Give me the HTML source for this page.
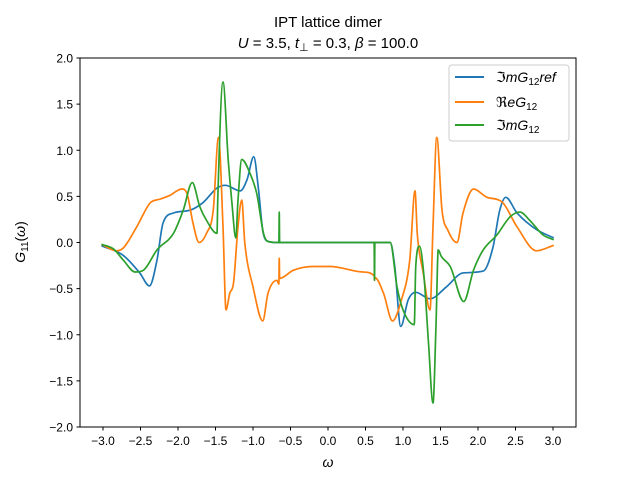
<!DOCTYPE html>
<html><head><meta charset="utf-8"><style>
body{margin:0;background:#fff;}
svg{display:block;font-family:"Liberation Sans","DejaVu Sans",sans-serif;}
</style></head><body>
<svg id="chart" width="640" height="480" viewBox="0 0 640 480">
<text x="328" y="27" text-anchor="middle" font-size="15">IPT lattice dimer</text>
<text x="328" y="48" text-anchor="middle" font-size="15"><tspan font-style="italic">U</tspan> = 3.5, <tspan font-style="italic">t</tspan><tspan font-size="11" dy="3">⊥</tspan><tspan dy="-3"> = 0.3, </tspan><tspan font-style="italic">β</tspan> = 100.0</text>
<g id="plot"></g>
<rect x="80" y="58" width="496" height="369" fill="none" stroke="#000" stroke-width="1"/>
<g id="ticks"></g>
<text x="328" y="467" text-anchor="middle" font-size="14" font-style="italic">ω</text>
<text transform="translate(25,242) rotate(-90)" text-anchor="middle" font-size="14"><tspan font-style="italic">G</tspan><tspan font-size="10" dy="3">11</tspan><tspan dy="-3">(</tspan><tspan font-style="italic">ω</tspan>)</text>
<g>
<rect x="449" y="65" width="120" height="76" rx="3" fill="#fff" fill-opacity="0.8" stroke="#ccc"/>
<line x1="455" y1="77" x2="484" y2="77" stroke="#1f77b4" stroke-width="2"/>
<text x="496" y="82" font-size="14">ℑ<tspan font-style="italic">mG</tspan><tspan font-size="10" dy="3">12</tspan><tspan dy="-3" font-style="italic">ref</tspan></text>
<line x1="455" y1="102" x2="484" y2="102" stroke="#ff7f0e" stroke-width="2"/>
<text x="496" y="107" font-size="14">ℜ<tspan font-style="italic">eG</tspan><tspan font-size="10" dy="3">12</tspan></text>
<line x1="455" y1="125" x2="484" y2="125" stroke="#2ca02c" stroke-width="2"/>
<text x="496" y="130" font-size="14">ℑ<tspan font-style="italic">mG</tspan><tspan font-size="10" dy="3">12</tspan></text>
</g>
</svg>
<script>
const xTicks=[-3.0,-2.5,-2.0,-1.5,-1.0,-0.5,0.0,0.5,1.0,1.5,2.0,2.5,3.0];
const yTicks=[-2.0,-1.5,-1.0,-0.5,0.0,0.5,1.0,1.5,2.0];
const imRefW=[-3.02,-2.73,-2.51,-2.38,-2.28,-2.20,-2.06,-1.84,-1.67,-1.48,-1.37,-1.17,-1.08,-0.99,-0.93,-0.87,-0.82,-0.7,0,0.75,0.83,0.89,0.97,1.07,1.17,1.36,1.58,1.80,2.07,2.20,2.29,2.37,2.52,2.78,3.01];
const imRefV=[-0.035,-0.14,-0.33,-0.47,-0.19,0.21,0.32,0.35,0.43,0.59,0.62,0.56,0.68,0.93,0.60,0.13,0.02,0.0,0.0,0.0,0.0,-0.26,-0.91,-0.62,-0.54,-0.61,-0.48,-0.33,-0.31,-0.05,0.35,0.49,0.32,0.14,0.05];
const reW=[-3.02,-2.82,-2.73,-2.55,-2.37,-2.24,-2.11,-1.95,-1.88,-1.80,-1.72,-1.62,-1.53,-1.46,-1.40,-1.36,-1.31,-1.26,-1.20,-1.15,-1.11,-1.0,-0.87,-0.80,-0.68,-0.655,-0.65,-0.645,-0.46,-0.20,0.03,0.47,0.615,0.62,0.625,0.74,0.86,0.98,1.09,1.16,1.19,1.27,1.36,1.40,1.45,1.52,1.60,1.72,1.80,1.94,2.12,2.32,2.52,2.78,3.01];
const reV=[-0.02,-0.09,-0.06,0.17,0.43,0.47,0.51,0.58,0.53,0.21,0.0,0.10,0.35,1.14,0.17,-0.73,-0.55,-0.44,0.17,0.46,0.0,-0.48,-0.85,-0.55,-0.41,-0.45,-0.17,-0.39,-0.30,-0.26,-0.26,-0.32,-0.36,-0.41,-0.38,-0.55,-0.85,-0.62,-0.19,0.56,0.10,-0.33,-0.73,0.17,1.14,0.35,0.13,0.0,0.32,0.58,0.49,0.44,0.17,-0.09,-0.03];
const imW=[-3.02,-2.86,-2.73,-2.57,-2.46,-2.28,-2.06,-1.93,-1.81,-1.71,-1.62,-1.48,-1.47,-1.40,-1.33,-1.28,-1.23,-1.20,-1.15,-1.04,-0.95,-0.86,-0.80,-0.655,-0.65,-0.645,0,0.615,0.62,0.625,0.83,0.92,1.0,1.15,1.17,1.22,1.28,1.34,1.40,1.44,1.47,1.51,1.63,1.81,1.94,2.07,2.25,2.43,2.56,2.69,2.87,3.01];
const imV=[-0.02,-0.07,-0.19,-0.32,-0.30,-0.08,0.10,0.35,0.65,0.39,0.24,0.10,0.46,1.74,0.89,0.42,0.05,0.46,0.90,0.75,0.53,0.10,0.01,0.0,0.33,0.0,0.0,0.0,-0.41,0.0,0.0,-0.48,-0.73,-0.89,-0.26,-0.04,-0.37,-1.09,-1.74,-0.9,-0.08,-0.15,-0.26,-0.64,-0.30,-0.08,0.08,0.28,0.33,0.24,0.08,0.03];

const X=w=>328+w*75;
const Y=v=>242.5-v*92.25;
const NS='http://www.w3.org/2000/svg';
const plot=document.getElementById('plot');
const ticks=document.getElementById('ticks');
function fmt(v){return (v<0?'−':'')+Math.abs(v).toFixed(1);}
xTicks.forEach(t=>{
  const l=document.createElementNS(NS,'line');
  l.setAttribute('x1',X(t));l.setAttribute('x2',X(t));l.setAttribute('y1',427);l.setAttribute('y2',430.5);l.setAttribute('stroke','#000');
  
  
  ticks.appendChild(l);
  const tx=document.createElementNS(NS,'text');
  tx.setAttribute('x',X(t));tx.setAttribute('y',445);tx.setAttribute('text-anchor','middle');tx.setAttribute('font-size','12');
  tx.textContent=fmt(t);
  
  
  ticks.appendChild(tx);
});
yTicks.forEach(t=>{
  const l=document.createElementNS(NS,'line');
  l.setAttribute('x1',76.5);l.setAttribute('x2',80);l.setAttribute('y1',Y(t));l.setAttribute('y2',Y(t));l.setAttribute('stroke','#000');
  
  
  ticks.appendChild(l);
  const tx=document.createElementNS(NS,'text');
  tx.setAttribute('x',73);tx.setAttribute('y',Y(t)+4.5);tx.setAttribute('text-anchor','end');tx.setAttribute('font-size','12');
  tx.textContent=fmt(t);
  
  
  ticks.appendChild(tx);
});
// monotone cubic (Fritsch-Carlson) smooth path in pixel space
function smoothPath(ws,vs){
  const xs=ws.map(X), ys=vs.map(Y), n=xs.length;
  const d=[],m=new Array(n).fill(0);
  for(let i=0;i<n-1;i++) d.push((ys[i+1]-ys[i])/((xs[i+1]-xs[i])||1e-6));
  m[0]=d[0];m[n-1]=d[n-2];
  for(let i=1;i<n-1;i++){ m[i]=(d[i-1]*d[i]<=0)?0:(d[i-1]+d[i])/2; }
  for(let i=0;i<n-1;i++){
    if(d[i]===0){m[i]=0;m[i+1]=0;continue;}
    const a=m[i]/d[i],b=m[i+1]/d[i],s=a*a+b*b;
    if(s>9){const t=3/Math.sqrt(s);m[i]=t*a*d[i];m[i+1]=t*b*d[i];}
  }
  let p='M'+xs[0].toFixed(1)+','+ys[0].toFixed(1);
  for(let i=0;i<n-1;i++){
    const h=(xs[i+1]-xs[i])/3;
    p+=' C'+(xs[i]+h).toFixed(2)+','+(ys[i]+m[i]*h).toFixed(2)+' '+(xs[i+1]-h).toFixed(2)+','+(ys[i+1]-m[i+1]*h).toFixed(2)+' '+xs[i+1].toFixed(2)+','+ys[i+1].toFixed(2);
  }
  return p;
}
function line(ws,vs,color){
  const p=document.createElementNS(NS,'path');
  p.setAttribute('d',smoothPath(ws,vs));
  p.setAttribute('fill','none');p.setAttribute('stroke',color);p.setAttribute('stroke-width','1.7');p.setAttribute('stroke-linejoin','round');
  plot.appendChild(p);
  return p;
}
const s1=line(imRefW,imRefV,'#1f77b4');


const s2=line(reW,reV,'#ff7f0e');


const s3=line(imW,imV,'#2ca02c');


</script>
</body></html>
